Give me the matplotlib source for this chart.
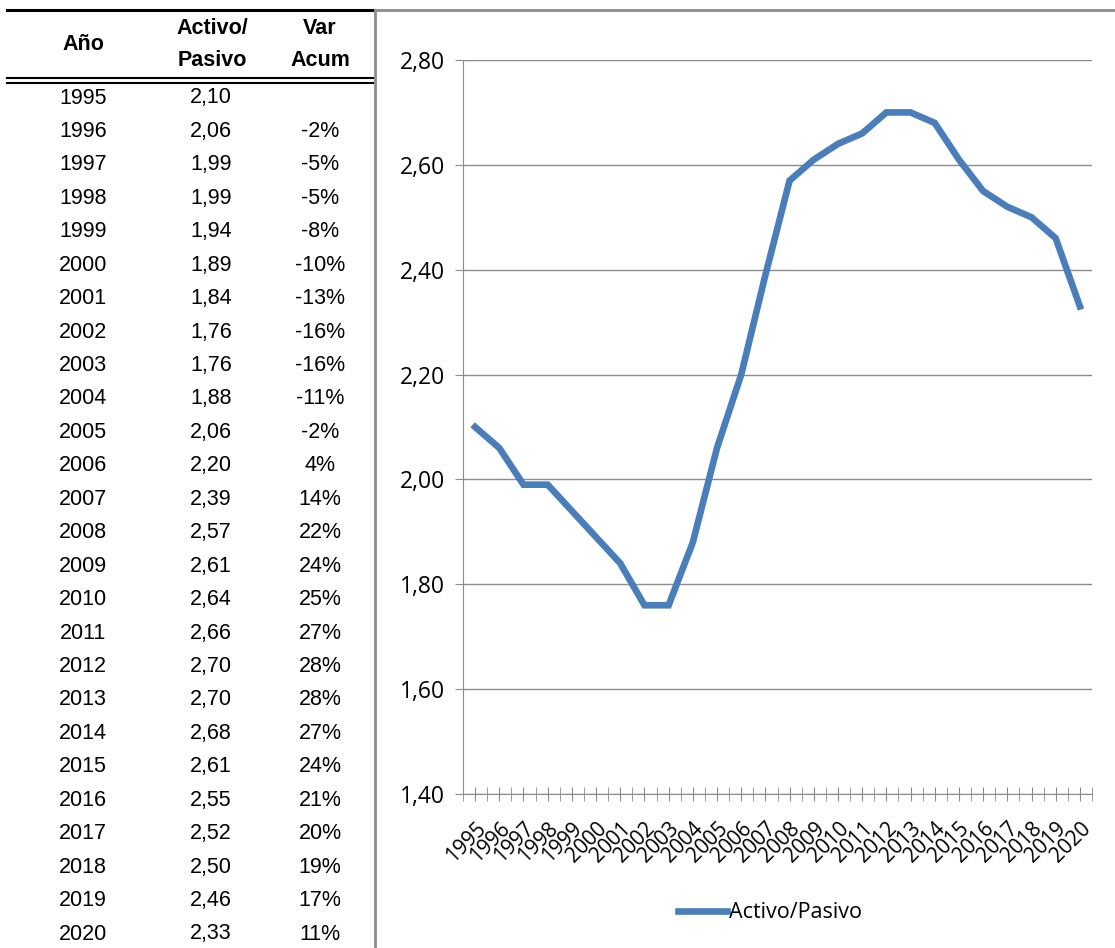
import matplotlib
matplotlib.use("Agg")
import matplotlib.pyplot as plt
import matplotlib.transforms as mtransforms
from matplotlib.lines import Line2D
from matplotlib.ticker import FixedLocator, FuncFormatter

years = list(range(1995, 2021))
activo_pasivo = [2.10, 2.06, 1.99, 1.99, 1.94, 1.89, 1.84, 1.76, 1.76, 1.88,
                 2.06, 2.20, 2.39, 2.57, 2.61, 2.64, 2.66, 2.70, 2.70, 2.68,
                 2.61, 2.55, 2.52, 2.50, 2.46, 2.33]
var_acum = ["", "-2%", "-5%", "-5%", "-8%", "-10%", "-13%", "-16%", "-16%", "-11%",
            "-2%", "4%", "14%", "22%", "24%", "25%", "27%", "28%", "28%", "27%",
            "24%", "21%", "20%", "19%", "17%", "11%"]

W, H = 1115, 948
fig = plt.figure(figsize=(W / 100, H / 100), dpi=100)

def fx(px):
    return px / W

def fy(py):
    return 1 - py / H

# ---- table on the left ----
tfont = ["Liberation Sans", "DejaVu Sans"]
fig.add_artist(Line2D([fx(7), fx(373)], [fy(10), fy(10)], color="black", lw=2.2))
fig.add_artist(Line2D([fx(7), fx(373)], [fy(78), fy(78)], color="black", lw=1.5))
fig.add_artist(Line2D([fx(7), fx(373)], [fy(82.5), fy(82.5)], color="black", lw=1.5))

hdr = dict(ha="center", va="center", fontsize=15.5, fontweight="bold", family=tfont)
fig.text(fx(83), fy(45), "Año", **hdr)
fig.text(fx(212), fy(28), "Activo/", **hdr)
fig.text(fx(212), fy(61), "Pasivo", **hdr)
fig.text(fx(320), fy(28), "Var", **hdr)
fig.text(fx(320), fy(61), "Acum", **hdr)

row0, step = 98, (934 - 98) / 25
cell = dict(ha="center", va="center", fontsize=15.5, family=tfont)
for i, (yr, v, va) in enumerate(zip(years, activo_pasivo, var_acum)):
    yy = fy(row0 + i * step)
    fig.text(fx(83), yy, str(yr), **cell)
    fig.text(fx(211), yy, f"{v:.2f}".replace(".", ","), **cell)
    fig.text(fx(320), yy, va, **cell)

# ---- chart frame ----
fig.add_artist(Line2D([fx(375), fx(1115)], [fy(10), fy(10)], color="#8c8c8c", lw=2))
fig.add_artist(Line2D([fx(375), fx(375)], [fy(10), fy(948)], color="#8c8c8c", lw=2))

# ---- line chart ----
cfont = ["Open Sans", "DejaVu Sans"]
ax = fig.add_axes([fx(463), fy(794), fx(1092) - fx(463), fy(60) - fy(794)])
x = list(range(len(years)))
ax.plot(x, activo_pasivo, color="#4a7ebb", lw=4.8, solid_joinstyle="miter",
        label="Activo/Pasivo")

ax.set_ylim(1.4, 2.8)
ax.set_xlim(-0.5, len(years) - 0.5)
ax.set_yticks([1.4, 1.6, 1.8, 2.0, 2.2, 2.4, 2.6, 2.8])
ax.yaxis.set_major_formatter(FuncFormatter(lambda v, p: f"{v:.2f}".replace(".", ",")))
ax.grid(axis="y", color="#8c8c8c", lw=1)
ax.set_axisbelow(True)

# labelled ticks on the categories, extra ticks on the boundaries
ax.set_xticks(x)
ax.set_xticklabels([str(y) for y in years], rotation=45, ha="right",
                   rotation_mode="anchor", fontsize=15, family=cfont)
shift = mtransforms.ScaledTranslation(7 / 100, 0, fig.dpi_scale_trans)
for lab in ax.get_xticklabels():
    lab.set_transform(lab.get_transform() + shift)
ax.xaxis.set_minor_locator(FixedLocator([k - 0.5 for k in range(len(years) + 1)]))
ax.tick_params(axis="x", which="both", direction="inout", length=10,
               color="#8c8c8c", pad=12)
ax.tick_params(axis="y", length=6, color="#8c8c8c", labelsize=16.5, pad=7)
for lab in ax.get_yticklabels():
    lab.set_family(cfont)

for s in ["top", "right"]:
    ax.spines[s].set_visible(False)
ax.spines["left"].set_color("#8c8c8c")
ax.spines["bottom"].set_color("#8c8c8c")

fig.legend(loc="center", bbox_to_anchor=(fx(770), fy(913)), frameon=False,
           handlelength=2.3, handletextpad=0.1,
           prop={"family": cfont, "size": 15.5})

fig.savefig("out.png", dpi=100)
